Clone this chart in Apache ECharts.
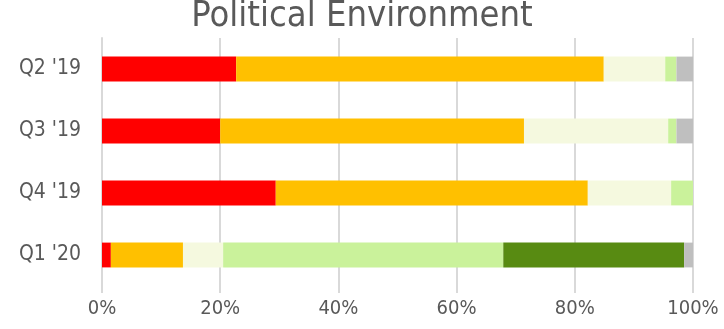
<!DOCTYPE html>
<html>
<head>
<meta charset="utf-8">
<script src="https://cdn.jsdelivr.net/npm/echarts@6/dist/echarts.min.js"></script>
<style>
html,body{margin:0;padding:0;background:#fff;}
#main{width:724px;height:329px;}
</style>
</head>
<body>
<div id="main"></div>
<script>
// categories top to bottom
var quarters = ["Q2 '19", "Q3 '19", "Q4 '19", "Q1 '20"];
// percent share of each segment, per quarter
var redVals       = [22.7, 20.0, 29.4, 1.5];
var orangeVals    = [62.2, 51.4, 52.8, 12.2];
var creamVals     = [10.4, 24.4, 14.1, 6.8];
var lightGreenVals= [1.9, 1.4, 3.7, 47.4];
var darkGreenVals = [0, 0, 0, 30.6];
var grayVals      = [2.8, 2.8, 0, 1.5];

var font = "'DejaVu Sans Condensed', 'Liberation Sans Narrow', sans-serif";

function seg(name, vals, color){
    return {
        name: name,
        type: 'bar',
        stack: 'all',
        barWidth: '40%',
        data: vals,
        itemStyle: {color: color},
        silent: true
    };
}

var mychart = echarts.init(document.getElementById('main'));
mychart.setOption({
    animation: false,
    title: {
        text: 'Political Environment',
        left: 'center',
        top: -6,
        textStyle: {fontFamily: font, fontSize: 36, fontWeight: 'normal', color: '#595959'}
    },
    grid: {left: 102, right: 31, top: 38, bottom: 43},
    xAxis: {
        type: 'value',
        min: 0, max: 100, interval: 20,
        axisLine: {show: false},
        axisTick: {show: true, length: 7, lineStyle: {color: '#d9d9d9', width: 2}},
        splitLine: {show: true, lineStyle: {color: '#d9d9d9', width: 2}},
        axisLabel: {
            formatter: '{value}%', margin: 13,
            fontFamily: font, fontSize: 20, color: '#595959'
        }
    },
    yAxis: {
        type: 'category',
        inverse: true,
        data: quarters,
        axisLine: {show: true, lineStyle: {color: '#d9d9d9', width: 2}},
        axisTick: {show: false},
        axisLabel: {margin: 21, fontFamily: font, fontSize: 21, color: '#595959'}
    },
    series: [
        seg('red', redVals, '#ff0000'),
        seg('orange', orangeVals, '#ffc000'),
        seg('cream', creamVals, '#f5f9df'),
        seg('lightgreen', lightGreenVals, '#caf29b'),
        seg('darkgreen', darkGreenVals, '#588b12'),
        seg('gray', grayVals, '#bfbfbf')
    ]
});
</script>
</body>
</html>
